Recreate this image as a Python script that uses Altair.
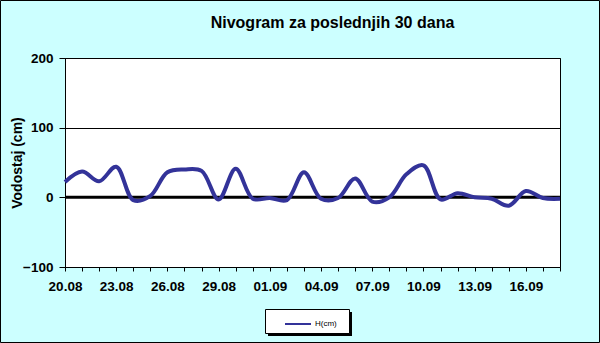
import altair as alt
import pandas as pd

DATES = ["20.08", "21.08", "22.08", "23.08", "24.08", "25.08", "26.08", "27.08",
         "28.08", "29.08", "30.08", "31.08", "01.09", "02.09", "03.09", "04.09",
         "05.09", "06.09", "07.09", "08.09", "09.09", "10.09", "11.09", "12.09",
         "13.09", "14.09", "15.09", "16.09", "17.09", "18.09"]
H_CM = [22, 37, 23, 44, -4, 2, 36, 40, 38, -3, 41, -2, -1, -4, 36, -2,
        -1, 27, -6, 0, 33, 46, -3, 6, 0, -2, -12, 9, -1, -2]
SERIES = "H(cm)"
TITLE = "Nivogram za poslednjih 30 dana"
Y_TITLE = "Vodostaj (cm)"
Y_TICKS = [-100, 0, 100, 200]

FONT = "Liberation Sans"
LINE_COLOR = "#333399"

df = pd.DataFrame({"day": list(range(len(DATES))), "date": DATES, "H": H_CM,
                   "series": [SERIES] * len(DATES)})
zero_df = pd.DataFrame({"y": [0]})
one = pd.DataFrame({"a": [0]})

label_array = "[" + ",".join(f"'{d}'" for d in DATES) + "]"

x_enc = alt.X("day:Q",
              scale=alt.Scale(domain=[0, len(DATES) - 1], nice=False, zero=False),
              axis=alt.Axis(title=None, values=list(range(len(DATES))),
                            labelExpr=f"datum.value % 3 == 0 ? {label_array}[datum.value] : ''",
                            tickSize=4, labelPadding=8, grid=False,
                            labelFont=FONT, labelFontSize=13.5, labelFontWeight="bold",
                            labelColor="black", domainColor="black", tickColor="black",
                            labelOverlap=False, labelFlush=False))
y_enc = alt.Y("H:Q",
              scale=alt.Scale(domain=[-100, 200], nice=False),
              axis=alt.Axis(title=Y_TITLE, values=Y_TICKS, tickSize=6, labelPadding=6,
                            grid=True, gridColor="black", gridOpacity=1, gridWidth=1,
                            labelFont=FONT, labelFontSize=13.5, labelFontWeight="bold",
                            labelColor="black", domainColor="black", tickColor="black",
                            titleFont=FONT, titleFontSize=14, titleFontWeight="bold",
                            titleColor="black", titleX=-48, titleY=104.5,
                            titleAngle=270, titleAlign="center", titleBaseline="middle"))

base = alt.Chart(df)

# outer border of the chart
border = alt.Chart(one).mark_rect(fill=None, stroke="black", strokeWidth=1).encode(
    x=alt.value(-64.5), x2=alt.value(534.5), y=alt.value(-57.5), y2=alt.value(284.5))

zero_rule = alt.Chart(zero_df).mark_rule(color="black", strokeWidth=3).encode(
    y=alt.Y("y:Q", scale=alt.Scale(domain=[-100, 200], nice=False)))

line = base.mark_line(interpolate="catmull-rom", strokeWidth=4).encode(
    x=x_enc, y=y_enc,
    color=alt.Color("series:N", scale=alt.Scale(range=[LINE_COLOR]),
                    legend=alt.Legend(title=None, orient="none", legendX=219, legendY=252,
                                      symbolType="stroke", symbolSize=676,
                                      symbolStrokeWidth=2, labelFont=FONT,
                                      labelFontSize=8, labelColor="black",
                                      labelOffset=3, padding=0)))

legend_shadow = alt.Chart(one).mark_rect(fill="black").encode(
    x=alt.value(203), x2=alt.value(287), y=alt.value(254), y2=alt.value(278))
legend_box = alt.Chart(one).mark_rect(fill="white", stroke="black", strokeWidth=1).encode(
    x=alt.value(200.5), x2=alt.value(284.5), y=alt.value(251.5), y2=alt.value(275.5))

chart = alt.layer(border, zero_rule, line, legend_shadow, legend_box).properties(
    width=495, height=209,
    title=alt.TitleParams(TITLE, font=FONT, fontSize=16, fontWeight="bold",
                          color="black", anchor="middle", dx=20, offset=-43.5,
                          baseline="alphabetic"),
    autosize=alt.AutoSizeParams(type="none"),
    padding={"left": 65, "top": 58, "right": 40, "bottom": 76},
    background="#CCFFFF",
).configure_view(fill="white", stroke="black", strokeWidth=1)

chart.save("out.html", embed_options={"renderer": "svg", "actions": False})
